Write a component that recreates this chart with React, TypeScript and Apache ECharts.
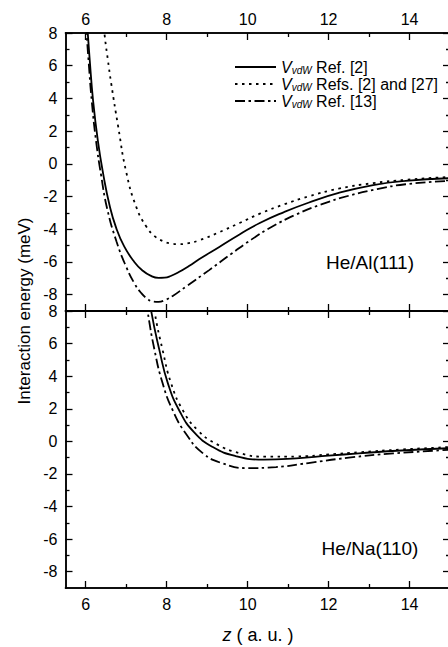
import React, { useEffect, useRef } from "react";
import * as echarts from "echarts";

// ---- axis ticks / labels ----
const xMajorTicks = [6, 8, 10, 12, 14];
const xMinorTicks = [7, 9, 11, 13];
const yMajorTicks = [-8, -6, -4, -2, 0, 2, 4, 6, 8];
const yMinorTicks = [-7, -5, -3, -1, 1, 3, 5, 7];
const xRange = [5.5, 15];
const yRange = [-9, 8];

// ---- legend / panel labels ----
const legendRefs = [" Ref. [2]", " Refs. [2] and [27]", " Ref. [13]"];
const panelLabels = ["He/Al(111)", "He/Na(110)"];
const yTitle = "Interaction energy (meV)";

// ---- He/Al(111) curves: [z, energy] ----
const alRef2: [number, number][] = [
  [6.0, 9.7], [6.05, 8.0], [6.1, 6.3], [6.18, 3.9], [6.3, 1.4], [6.43, -0.6],
  [6.59, -2.55], [6.75, -3.9], [6.95, -5.05], [7.2, -6.0], [7.4, -6.52],
  [7.6, -6.84], [7.8, -6.97], [7.95, -6.96], [8.1, -6.86], [8.3, -6.62],
  [8.55, -6.25], [8.8, -5.84], [9.3, -5.08], [9.8, -4.32], [10.3, -3.62],
  [10.9, -2.95], [11.5, -2.38], [12.25, -1.78], [13.1, -1.3], [13.9, -1.04],
  [15.0, -0.88],
];
const alRefs2and27: [number, number][] = [
  [6.4, 9.6], [6.47, 7.8], [6.55, 6.3], [6.63, 4.9], [6.8, 2.3], [7.0, -0.5],
  [7.25, -2.65], [7.5, -3.85], [7.7, -4.42], [7.9, -4.72], [8.1, -4.87],
  [8.3, -4.91], [8.5, -4.87], [8.8, -4.68], [9.3, -4.18], [9.8, -3.62],
  [10.3, -3.05], [10.9, -2.48], [11.5, -2.0], [12.25, -1.52], [13.1, -1.18],
  [13.9, -0.98], [15.0, -0.8],
];
const alRef13: [number, number][] = [
  [5.97, 9.7], [6.02, 8.0], [6.07, 6.3], [6.15, 3.8], [6.26, 1.3], [6.38, -0.7],
  [6.53, -2.75], [6.76, -4.75], [7.0, -6.3], [7.2, -7.3], [7.37, -7.9],
  [7.52, -8.25], [7.66, -8.42], [7.8, -8.44], [7.95, -8.34], [8.15, -8.08],
  [8.48, -7.5], [9.05, -6.5], [9.6, -5.5], [10.1, -4.62], [10.6, -3.85],
  [11.2, -3.1], [11.8, -2.5], [12.5, -1.95], [13.2, -1.55], [13.9, -1.25],
  [15.0, -1.04],
];

// ---- He/Na(110) curves: [z, energy] ----
const naRef2: [number, number][] = [
  [7.52, 9.8], [7.62, 7.96], [7.82, 5.6], [8.03, 3.56], [8.32, 1.85],
  [8.68, 0.55], [9.14, -0.35], [9.7, -0.9], [10.4, -1.12], [11.2, -1.04],
  [12.0, -0.88], [12.75, -0.74], [13.8, -0.56], [15.0, -0.42],
];
const naRefs2and27: [number, number][] = [
  [7.6, 9.8], [7.7, 7.96], [7.9, 5.6], [8.11, 3.56], [8.4, 1.9],
  [8.77, 0.68], [9.22, -0.15], [9.8, -0.72], [10.45, -0.94], [11.2, -0.93],
  [12.0, -0.8], [12.75, -0.67], [13.8, -0.5], [15.0, -0.35],
];
const naRef13: [number, number][] = [
  [7.43, 9.8], [7.53, 7.96], [7.7, 5.6], [7.9, 3.56], [8.15, 1.9],
  [8.48, 0.45], [8.89, -0.72], [9.38, -1.35], [10.0, -1.64], [10.7, -1.58],
  [11.5, -1.33], [12.5, -1.0], [13.6, -0.74], [15.0, -0.52],
];

const FONT = "'Liberation Sans', Arial, Helvetica, sans-serif";
const BLACK = "#000";
const SOLID = "solid" as any;
const DOTTED = [2.5, 4.5];
const DASHDOT = [10, 3.5, 2.5, 3.5];

const GRID_LEFT = 65.5;
const GRID_WIDTH = 384.5;
const GRIDS = [
  { top: 33, height: 278 },
  { top: 311, height: 277 },
];

function xAxisDef(grid: number, position: string, values: number[], len: number, showLabel: boolean, margin: number) {
  return {
    type: "value",
    gridIndex: grid,
    position,
    min: xRange[0],
    max: xRange[1],
    axisLine: { show: true, onZero: false, lineStyle: { color: BLACK, width: 1.5 } },
    axisTick: { show: true, inside: true, length: len, customValues: values, lineStyle: { color: BLACK, width: 1.3 } },
    axisLabel: {
      show: showLabel,
      customValues: values,
      color: BLACK,
      fontSize: 16,
      fontFamily: FONT,
      margin,
    },
    splitLine: { show: false },
    minorTick: { show: false },
  };
}

function yAxisDef(grid: number, position: string, values: number[], len: number, showLabel: boolean) {
  return {
    type: "value",
    gridIndex: grid,
    position,
    min: yRange[0],
    max: yRange[1],
    axisLine: { show: true, onZero: false, lineStyle: { color: BLACK, width: 1.5 } },
    axisTick: { show: true, inside: true, length: len, customValues: values, lineStyle: { color: BLACK, width: 1.3 } },
    axisLabel: {
      show: showLabel,
      customValues: values,
      color: BLACK,
      fontSize: 16,
      fontFamily: FONT,
      margin: 8,
    },
    splitLine: { show: false },
  };
}

function lineSeries(name: string, data: [number, number][], grid: number, dash: any) {
  return {
    type: "line",
    name,
    data,
    xAxisIndex: grid * 4,
    yAxisIndex: grid * 4,
    showSymbol: false,
    symbol: "none",
    smooth: 0.5,
    clip: true,
    silent: true,
    lineStyle: { color: BLACK, width: 1.8, type: dash, cap: "butt" },
  };
}

export default function App() {
  const ref = useRef<HTMLDivElement>(null);

  useEffect(() => {
    if (!ref.current) return;
    const chart = echarts.init(ref.current, undefined, { renderer: "svg" });

    const xAxes: any[] = [];
    const yAxes: any[] = [];
    for (let g = 0; g < 2; g++) {
      xAxes.push(xAxisDef(g, "top", xMajorTicks, 7, g === 0, 6));
      xAxes.push(xAxisDef(g, "top", xMinorTicks, 4, false, 6));
      xAxes.push(xAxisDef(g, "bottom", xMajorTicks, 7, g === 1, 8));
      xAxes.push(xAxisDef(g, "bottom", xMinorTicks, 4, false, 8));
      yAxes.push(yAxisDef(g, "left", yMajorTicks, 7, true));
      yAxes.push(yAxisDef(g, "left", yMinorTicks, 4, false));
      yAxes.push(yAxisDef(g, "right", yMajorTicks, 7, false));
      yAxes.push(yAxisDef(g, "right", yMinorTicks, 4, false));
    }

    const legendRowsY = [67, 84, 101];
    const legendDash = [SOLID, DOTTED, DASHDOT];
    const legendGraphics: any[] = [];
    legendRowsY.forEach((y, i) => {
      legendGraphics.push({
        type: "line",
        shape: { x1: 235, y1: y, x2: 276, y2: y },
        style: { stroke: BLACK, lineWidth: 1.8, lineDash: i === 0 ? null : legendDash[i] },
        silent: true,
      });
      legendGraphics.push({
        type: "text",
        x: 281,
        y,
        silent: true,
        style: {
          text: "{v|V}{s|vdW}{t|" + legendRefs[i] + "}",
          align: "left",
          verticalAlign: "middle",
          textAlign: "left",
          textVerticalAlign: "middle",
          fill: BLACK,
          rich: {
            v: { fontSize: 16, fontStyle: "italic", fontFamily: FONT, lineHeight: 16, fill: BLACK, verticalAlign: "middle" },
            s: { fontSize: 10, fontStyle: "italic", fontFamily: FONT, lineHeight: 2, fill: BLACK, verticalAlign: "bottom" },
            t: { fontSize: 16, fontFamily: FONT, lineHeight: 16, fill: BLACK, verticalAlign: "middle" },
          },
        },
      });
    });

    const option: any = {
      animation: false,
      backgroundColor: "#fff",
      grid: GRIDS.map((g) => ({
        left: GRID_LEFT,
        width: GRID_WIDTH,
        top: g.top,
        height: g.height,
        containLabel: false,
        outerBoundsMode: "none",
      })),
      xAxis: xAxes,
      yAxis: yAxes,
      series: [
        lineSeries("Al Ref2", alRef2, 0, SOLID),
        lineSeries("Al Refs2and27", alRefs2and27, 0, DOTTED),
        lineSeries("Al Ref13", alRef13, 0, DASHDOT),
        lineSeries("Na Ref2", naRef2, 1, SOLID),
        lineSeries("Na Refs2and27", naRefs2and27, 1, DOTTED),
        lineSeries("Na Ref13", naRef13, 1, DASHDOT),
      ],
      graphic: [
        ...legendGraphics,
        {
          type: "text",
          x: 370,
          y: 262,
          silent: true,
          style: {
            text: panelLabels[0],
            font: "19px " + FONT,
            fill: BLACK,
            align: "center",
            verticalAlign: "middle",
            textAlign: "center",
            textVerticalAlign: "middle",
          },
        },
        {
          type: "text",
          x: 370,
          y: 548,
          silent: true,
          style: {
            text: panelLabels[1],
            font: "19px " + FONT,
            fill: BLACK,
            align: "center",
            verticalAlign: "middle",
            textAlign: "center",
            textVerticalAlign: "middle",
          },
        },
        {
          type: "text",
          x: 24,
          y: 311,
          rotation: Math.PI / 2,
          silent: true,
          style: {
            text: yTitle,
            font: "17px " + FONT,
            fill: BLACK,
            align: "center",
            verticalAlign: "middle",
            textAlign: "center",
            textVerticalAlign: "middle",
          },
        },
        {
          type: "text",
          x: 258,
          y: 635,
          silent: true,
          style: {
            text: "{i|z}{n| ( a. u. )}",
            align: "center",
            verticalAlign: "middle",
            textAlign: "center",
            textVerticalAlign: "middle",
            fill: BLACK,
            rich: {
              i: { fontSize: 18, fontStyle: "italic", fontFamily: FONT, fill: BLACK },
              n: { fontSize: 18, fontFamily: FONT, fill: BLACK },
            },
          },
        },
      ],
    };

    chart.setOption(option);
    return () => {
      chart.dispose();
    };
  }, []);

  return (
    <div
      ref={ref}
      style={{ position: "absolute", left: 0, top: 0, width: 448, height: 647, background: "#fff" }}
    />
  );
}
